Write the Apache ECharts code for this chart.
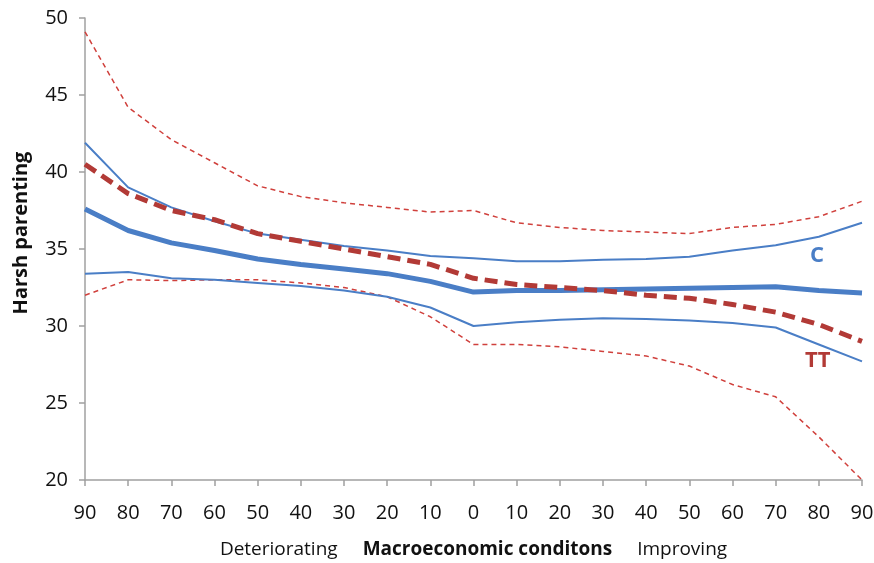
<!DOCTYPE html>
<html><head><meta charset="utf-8">
<script src="https://cdn.jsdelivr.net/npm/echarts@6/dist/echarts.min.js"></script>
<style>html,body{margin:0;padding:0;background:#fff}#c{width:874px;height:563px}</style>
</head><body><div id="c"></div>
<script>
const categories = ['90','80','70','60','50','40','30','20','10','0','10','20','30','40','50','60','70','80','90'];
const ttUpper = [49.1,44.2,42.1,40.6,39.1,38.4,38.0,37.7,37.4,37.5,36.7,36.4,36.2,36.1,36.0,36.4,36.6,37.1,38.1];
const ttMean  = [40.5,38.6,37.5,36.9,36.0,35.5,35.0,34.5,34.0,33.1,32.7,32.5,32.3,32.0,31.8,31.4,30.9,30.1,29.0];
const ttLower = [32.0,33.0,32.95,33.0,33.0,32.8,32.5,31.9,30.6,28.8,28.8,28.65,28.35,28.05,27.4,26.2,25.4,22.8,20.0];
const cUpper  = [41.9,39.0,37.7,36.8,36.0,35.6,35.2,34.9,34.55,34.4,34.2,34.2,34.3,34.35,34.5,34.9,35.25,35.8,36.7];
const cMean   = [37.6,36.2,35.4,34.9,34.35,34.0,33.7,33.4,32.9,32.2,32.3,32.3,32.35,32.4,32.45,32.5,32.55,32.3,32.15];
const cLower  = [33.4,33.5,33.1,33.0,32.8,32.6,32.3,31.9,31.2,30.0,30.25,30.4,30.5,30.45,30.35,30.2,29.9,28.8,27.7];
const yTicks = [20,25,30,35,40,45,50];

const FONT = '"Open Sans", "Noto Sans", sans-serif';
const BLUE = '#4A7EC6';
const RED = '#D0403C';
const DRED = '#B23A36';

const chart = echarts.init(document.getElementById('c'));
function line(name, data, color, width, type, z) {
  return { name, type: 'line', data, symbol: 'none', smooth: false, z,
    lineStyle: { color, width, type, cap: 'butt' }, emphasis: { disabled: true } };
}
chart.setOption({
  animation: false,
  grid: { left: 85, right: 12, top: 18, bottom: 83, containLabel: false, outerBoundsMode: 'none' },
  xAxis: {
    type: 'category', data: categories, boundaryGap: false,
    axisLine: { lineStyle: { color: '#A0A0A0', width: 1.5 } },
    axisTick: { show: true, length: 6, alignWithLabel: true, lineStyle: { color: '#A0A0A0', width: 1.5 } },
    axisLabel: { color: '#111', fontSize: 20, fontFamily: FONT, margin: 23, interval: 0 },
    name: '{n|Deteriorating}{b|Macroeconomic conditons}{n|Improving}',
    nameLocation: 'middle', nameGap: 60,
    nameTextStyle: { rich: {
      n: { fontSize: 19, fontFamily: FONT, color: '#111' },
      b: { fontSize: 19, fontFamily: FONT, color: '#111', fontWeight: 'bold', padding: [0, 25, 0, 25] } } }
  },
  yAxis: {
    type: 'value', min: 20, max: 50, interval: 5,
    axisLine: { show: true, lineStyle: { color: '#A0A0A0', width: 1.5 } },
    axisTick: { show: true, length: 6, lineStyle: { color: '#A0A0A0', width: 1.5 } },
    splitLine: { show: false },
    axisLabel: { color: '#111', fontSize: 20, fontFamily: FONT, margin: 17,
      formatter: v => yTicks.includes(v) ? String(v) : '' }
  },
  graphic: [
    { type: 'text', x: 21, y: 233, rotation: Math.PI / 2,
      style: { text: 'Harsh parenting', font: 'bold 20px ' + FONT, fill: '#111',
        textAlign: 'center', textVerticalAlign: 'middle' } },
    { type: 'text', x: 810, y: 245, style: { text: 'C', font: 'bold 22px ' + FONT, fill: BLUE } },
    { type: 'text', x: 805, y: 350, style: { text: 'TT', font: 'bold 22px ' + FONT, fill: DRED } }
  ],
  series: [
    line('TT upper', ttUpper, RED, 1.5, [5, 4], 2),
    line('TT lower', ttLower, RED, 1.5, [5, 4], 2),
    line('C upper', cUpper, BLUE, 2, 'solid', 3),
    line('C lower', cLower, BLUE, 2, 'solid', 3),
    line('C', cMean, BLUE, 5, 'solid', 4),
    line('TT', ttMean, DRED, 5, [13, 7], 5)
  ]
});
</script></body></html>
